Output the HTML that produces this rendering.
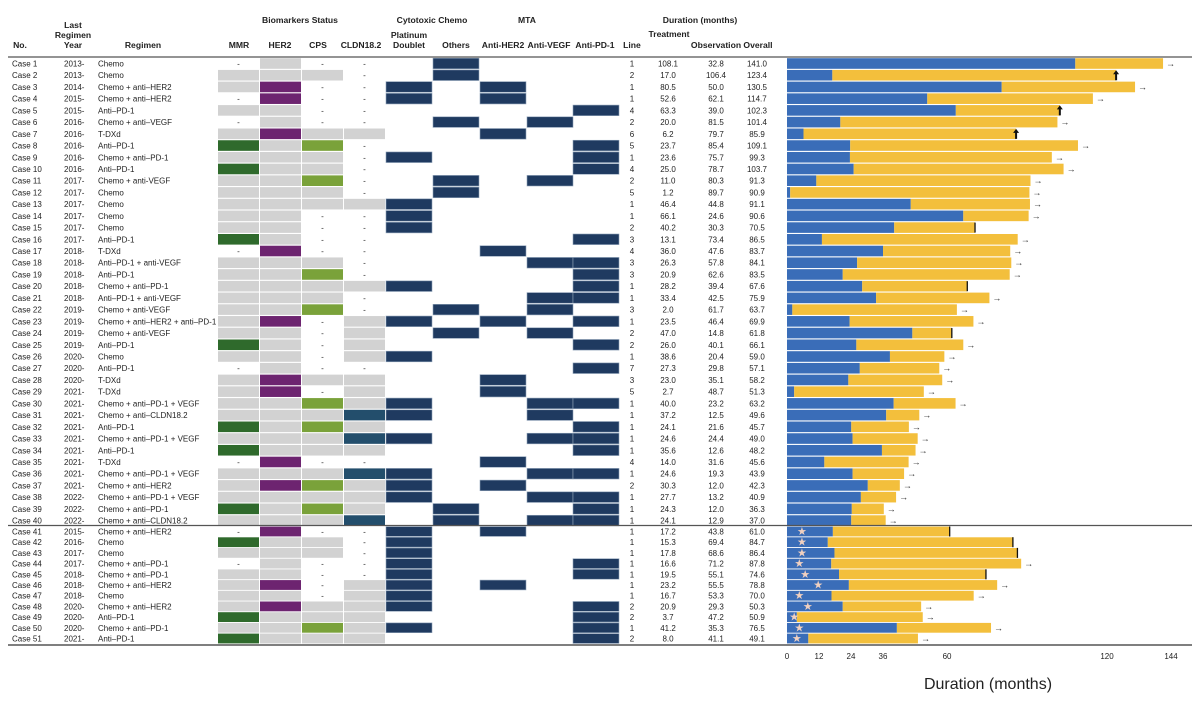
<!DOCTYPE html>
<html><head><meta charset="utf-8">
<style>
html,body{margin:0;padding:0;background:#fff;}
svg{display:block;font-family:"Liberation Sans",sans-serif;}
.h{font-weight:bold;font-size:8.6px;fill:#222;}
.t{font-size:8px;fill:#222;}
</style></head>
<body>
<svg id="chart" width="1199" height="701" viewBox="0 0 1199 701">
<g>
<text class="h" x="73" y="28" text-anchor="middle">Last</text>
<text class="h" x="73" y="38" text-anchor="middle">Regimen</text>
<text class="h" x="73" y="48" text-anchor="middle">Year</text>
<text class="h" x="20" y="48" text-anchor="middle">No.</text>
<text class="h" x="143" y="48" text-anchor="middle">Regimen</text>
<text class="h" x="300" y="23" text-anchor="middle">Biomarkers Status</text>
<text class="h" x="432" y="23" text-anchor="middle">Cytotoxic Chemo</text>
<text class="h" x="527" y="23" text-anchor="middle">MTA</text>
<text class="h" x="700" y="23" text-anchor="middle">Duration (months)</text>
<text class="h" x="239" y="48" text-anchor="middle">MMR</text>
<text class="h" x="280" y="48" text-anchor="middle">HER2</text>
<text class="h" x="318" y="48" text-anchor="middle">CPS</text>
<text class="h" x="361" y="48" text-anchor="middle">CLDN18.2</text>
<text class="h" x="409" y="38" text-anchor="middle">Platinum</text>
<text class="h" x="409" y="48" text-anchor="middle">Doublet</text>
<text class="h" x="456" y="48" text-anchor="middle">Others</text>
<text class="h" x="503" y="48" text-anchor="middle">Anti-HER2</text>
<text class="h" x="549" y="48" text-anchor="middle">Anti-VEGF</text>
<text class="h" x="595" y="48" text-anchor="middle">Anti-PD-1</text>
<text class="h" x="632" y="48" text-anchor="middle">Line</text>
<text class="h" x="669" y="37" text-anchor="middle">Treatment</text>
<text class="h" x="716" y="48" text-anchor="middle">Observation</text>
<text class="h" x="758" y="48" text-anchor="middle">Overall</text>
</g>
<g id="rows"></g>
<g id="bars"></g>
<g id="axis"></g>
<line x1="8" y1="57" x2="1192" y2="57" stroke="#555" stroke-width="1.2"/>
<line x1="8" y1="525.5" x2="1192" y2="525.5" stroke="#555" stroke-width="1.2"/>
<line x1="8" y1="645" x2="1192" y2="645" stroke="#555" stroke-width="1.5"/>
<text x="988" y="689" text-anchor="middle" style="font-size:16px;fill:#222">Duration (months)</text>
</svg>
<script>
const years=["2013-","2013-","2014-","2015-","2015-","2016-","2016-","2016-","2016-","2016-","2017-","2017-","2017-","2017-","2017-","2017-","2018-","2018-","2018-","2018-","2018-","2019-","2019-","2019-","2019-","2020-","2020-","2020-","2021-","2021-","2021-","2021-","2021-","2021-","2021-","2021-","2021-","2022-","2022-","2022-","2015-","2016-","2017-","2017-","2018-","2018-","2018-","2020-","2020-","2020-","2021-"];
const regimens=["Chemo","Chemo","Chemo + anti–HER2","Chemo + anti–HER2","Anti–PD-1","Chemo + anti–VEGF","T-DXd","Anti–PD-1","Chemo + anti–PD-1","Anti–PD-1","Chemo + anti-VEGF","Chemo","Chemo","Chemo","Chemo","Anti–PD-1","T-DXd","Anti–PD-1 + anti-VEGF","Anti–PD-1","Chemo + anti–PD-1","Anti–PD-1 + anti-VEGF","Chemo + anti-VEGF","Chemo + anti–HER2 + anti–PD-1","Chemo + anti-VEGF","Anti–PD-1","Chemo","Anti–PD-1","T-DXd","T-DXd","Chemo + anti–PD-1 + VEGF","Chemo + anti–CLDN18.2","Anti–PD-1","Chemo + anti–PD-1 + VEGF","Anti–PD-1","T-DXd","Chemo + anti–PD-1 + VEGF","Chemo + anti–HER2","Chemo + anti–PD-1 + VEGF","Chemo + anti–PD-1","Chemo + anti–CLDN18.2","Chemo + anti–HER2","Chemo","Chemo","Chemo + anti–PD-1","Chemo + anti–PD-1","Chemo + anti–HER2","Chemo","Chemo + anti–HER2","Anti–PD-1","Chemo + anti–PD-1","Anti–PD-1"];
const mmr=["-","g","g","-","g","-","g","d","g","d","g","g","g","g","g","d","-","g","g","g","g","g","g","g","d","g","-","g","g","g","g","d","g","d","-","g","g","g","d","g","-","d","g","-","g","g","g","g","d","g","d"];
const her2=["g","g","p","p","g","g","p","g","g","g","g","g","g","g","g","g","p","g","g","g","g","g","p","g","g","g","g","p","p","g","g","g","g","g","p","g","p","g","g","g","p","g","g","g","g","p","g","p","g","g","g"];
const cps=["-","g","-","-","-","-","g","l","g","g","l","g","g","-","-","-","-","g","l","g","g","l","-","-","-","-","-","g","-","l","g","l","g","g","-","g","l","g","l","g","-","g","g","-","-","-","-","g","g","l","g"];
const cldn=["-","-","-","-","-","-","g","-","-","-","-","-","g","-","-","-","-","-","-","g","-","-","g","g","g","g","-","g","g","g","b","g","b","g","-","b","g","g","g","b","-","-","-","-","-","g","g","g","g","g","g"];
const therapy=["01000","01000","10100","10100","00001","01010","00100","00001","10001","00001","01010","01000","10000","10000","10000","00001","00100","00011","00001","10001","00011","01010","10101","01010","00001","10000","00001","00100","00100","10011","10010","00001","10011","00001","00100","10011","10100","10011","01001","01011","10100","10000","10000","10001","10001","10100","10000","10001","00001","10001","00001"];
const lines=[1,2,1,1,4,2,6,5,1,4,2,5,1,1,2,3,4,3,3,1,1,3,1,2,2,1,7,3,5,1,1,1,1,1,4,1,2,1,1,1,1,1,1,1,1,1,1,2,2,1,2];
const treatment=[108.1,17.0,80.5,52.6,63.3,20.0,6.2,23.7,23.6,25.0,11.0,1.2,46.4,66.1,40.2,13.1,36.0,26.3,20.9,28.2,33.4,2.0,23.5,47.0,26.0,38.6,27.3,23.0,2.7,40.0,37.2,24.1,24.6,35.6,14.0,24.6,30.3,27.7,24.3,24.1,17.2,15.3,17.8,16.6,19.5,23.2,16.7,20.9,3.7,41.2,8.0];
const observation=[32.8,106.4,50.0,62.1,39.0,81.5,79.7,85.4,75.7,78.7,80.3,89.7,44.8,24.6,30.3,73.4,47.6,57.8,62.6,39.4,42.5,61.7,46.4,14.8,40.1,20.4,29.8,35.1,48.7,23.2,12.5,21.6,24.4,12.6,31.6,19.3,12.0,13.2,12.0,12.9,43.8,69.4,68.6,71.2,55.1,55.5,53.3,29.3,47.2,35.3,41.1];
const overall=[141.0,123.4,130.5,114.7,102.3,101.4,85.9,109.1,99.3,103.7,91.3,90.9,91.1,90.6,70.5,86.5,83.7,84.1,83.5,67.6,75.9,63.7,69.9,61.8,66.1,59.0,57.1,58.2,51.3,63.2,49.6,45.7,49.0,48.2,45.6,43.9,42.3,40.9,36.3,37.0,61.0,84.7,86.4,87.8,74.6,78.8,70.0,50.3,50.9,76.5,49.1];
const markers=["a","u","a","a","u","a","u","a","a","a","a","a","a","a","t","a","a","a","a","t","a","a","a","t","a","a","a","a","a","a","a","a","a","a","a","a","a","a","a","a","t","t","t","a","t","a","a","a","a","a","a"];
const stars=[null,null,null,null,null,null,null,null,null,null,null,null,null,null,null,null,null,null,null,null,null,null,null,null,null,null,null,null,null,null,null,null,null,null,null,null,null,null,null,null,5.6,5.6,5.6,4.6,6.8,11.7,4.6,7.8,2.7,4.6,3.7];
const ticks=[0,12,24,36,60,120,144];

const NS="http://www.w3.org/2000/svg";
const X0=787, K=2.667;
function xs(v){return X0+v*K;}
function yc(i){return i<40 ? 63.5+i*11.72 : 531.5+(i-40)*10.7;}
function mk(tag,attrs,parent){const e=document.createElementNS(NS,tag);for(const k in attrs)e.setAttribute(k,attrs[k]);parent.appendChild(e);return e;}
const colors={g:"#d2d2d2",p:"#6d2470",d:"#2f6a2c",l:"#7aa23a",b:"#234e6c"};
const bioX=[218,260,302,344];
const thX=[386,433,480,527,573];
const rowsG=document.getElementById("rows"), barsG=document.getElementById("bars"), axisG=document.getElementById("axis");
for(let i=0;i<51;i++){
  const y=yc(i);
  const hh=i<40?10.6:9.8;
  const g=mk("g",{},rowsG);
  
  
  const cols=[[12,"Case "+(i+1)],[64,years[i]],[98,regimens[i]]];
  cols.forEach(c=>{const t=mk("text",{x:c[0],y:y+3,class:"t"},g);t.textContent=c[1];});
  const bio=[mmr[i],her2[i],cps[i],cldn[i]];
  bio.forEach((c,j)=>{
    if(c==="-"){const t=mk("text",{x:bioX[j]+20.5,y:y+3,class:"t","text-anchor":"middle"},g);t.textContent="-";}
    else{const r=mk("rect",{x:bioX[j],y:y-hh/2,width:41,height:hh,fill:colors[c]},g);
      
      }
  });
  therapy[i].split("").forEach((c,j)=>{
    if(c==="1"){const r=mk("rect",{x:thX[j],y:y-hh/2,width:46,height:hh,fill:"#1f3a60",stroke:"#8fa2b8","stroke-width":0.6},g);
      
      }
  });
  const nums=[[632,lines[i]],[668,treatment[i].toFixed(1)],[716,observation[i].toFixed(1)],[757,overall[i].toFixed(1)]];
  nums.forEach(n=>{const t=mk("text",{x:n[0],y:y+3,class:"t","text-anchor":"middle"},g);t.textContent=n[1];});
  const b1=mk("rect",{x:xs(0),y:y-hh/2,width:xs(treatment[i])-xs(0),height:hh,fill:"#3a6db8"},barsG);
  
  
  const b2=mk("rect",{x:xs(treatment[i]),y:y-hh/2,width:xs(overall[i])-xs(treatment[i]),height:hh,fill:"#f3bf3c"},barsG);
  
  
  const e=xs(overall[i]), m=markers[i];
  if(m==="a"){const t=mk("text",{x:e+3,y:y+3,style:"font-size:9px;fill:#333"},barsG);t.textContent="→";
    }
  else if(m==="u"){const p=mk("path",{d:`M${e-3} ${y-1} L${e} ${y-5} L${e+3} ${y-1} L${e+1} ${y-1} L${e+1} ${y+5} L${e-1} ${y+5} L${e-1} ${y-1} Z`,fill:"#111"},barsG);
    }
  else if(m==="t"){const l=mk("line",{x1:e,y1:y-5,x2:e,y2:y+5,stroke:"#111","stroke-width":1.3},barsG);
    }
  if(stars[i]!==null){const s=mk("text",{x:xs(stars[i]),y:y+3.5,"text-anchor":"middle",style:"font-size:11px;fill:#f0d0c0"},barsG);s.textContent="★";
    }
}
ticks.forEach(v=>{
  const t=mk("text",{x:xs(v),y:659,class:"t","text-anchor":"middle"},axisG);t.textContent=v;
  
  
});
</script>
</body></html>
